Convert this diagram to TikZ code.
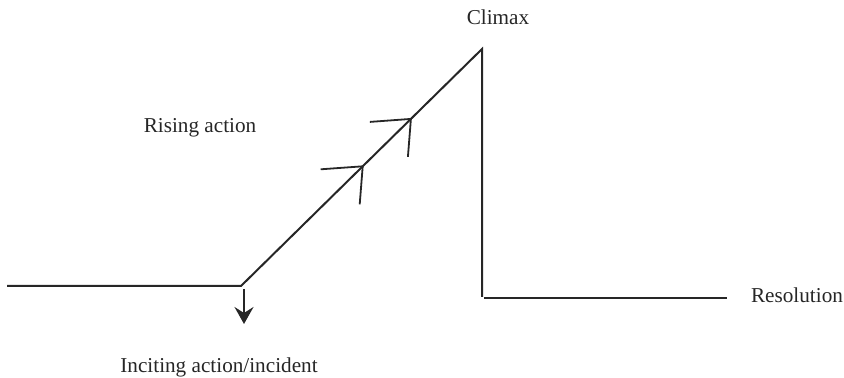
\documentclass[tikz,border=0pt]{standalone}
\usepackage{fontspec}
\setmainfont{Liberation Serif}
\usetikzlibrary{positioning, arrows.meta, calc}

\begin{document}
\begin{tikzpicture}[x=0.5pt, y=-0.5pt,
            plotline/.style={line width=1pt, black!85},
            chevron/.style={line width=0.9pt, black!85},
            incite/.style={line width=1pt, black!85, -{Stealth[length=8.5pt, width=9.5pt, inset=3pt]}},
            plotlabel/.style={font=\fontsize{10.6}{12}\selectfont, text=black!85, inner sep=0pt, anchor=base}
        ]
        \useasboundingbox (0,0) rectangle (844,378);
        % Points of the plot line
        \coordinate (start) at (7, 286);
        \coordinate (inc) at (241, 286);
        \coordinate (top) at (482, 49);
        \coordinate (foot) at (482, 297);
        \coordinate (res) at (484, 298);
        \coordinate (end) at (727, 298);
        % Plot line
        \draw[plotline] (start) -- (inc) -- (top) -- (foot);
        \draw[plotline] (res) -- (end);
        % Chevrons on the rising line
        \coordinate (up1) at ($(inc)!0.505!(top)$);
        \coordinate (up2) at ($(inc)!0.705!(top)$);
        \draw[chevron] (up1) -- ++(-42, 3);
        \draw[chevron] (up1) -- ++(-3, 38);
        \draw[chevron] (up2) -- ++(-41, 3);
        \draw[chevron] (up2) -- ++(-3, 38);
        % Inciting arrow
        \coordinate (arr1) at (244, 289);
        \coordinate (arr2) at (244, 324);
        \draw[incite] (arr1) -- (arr2);
        % Labels
        \node[plotlabel] (climax) at (498, 25) {Climax};
        \node[plotlabel] (rising) at (200, 133) {Rising action};
        \node[plotlabel] (resolution) at (797, 303) {Resolution};
        \node[plotlabel] (inciting) at (219, 372) {Inciting action/incident};
\end{tikzpicture}
\end{document}
